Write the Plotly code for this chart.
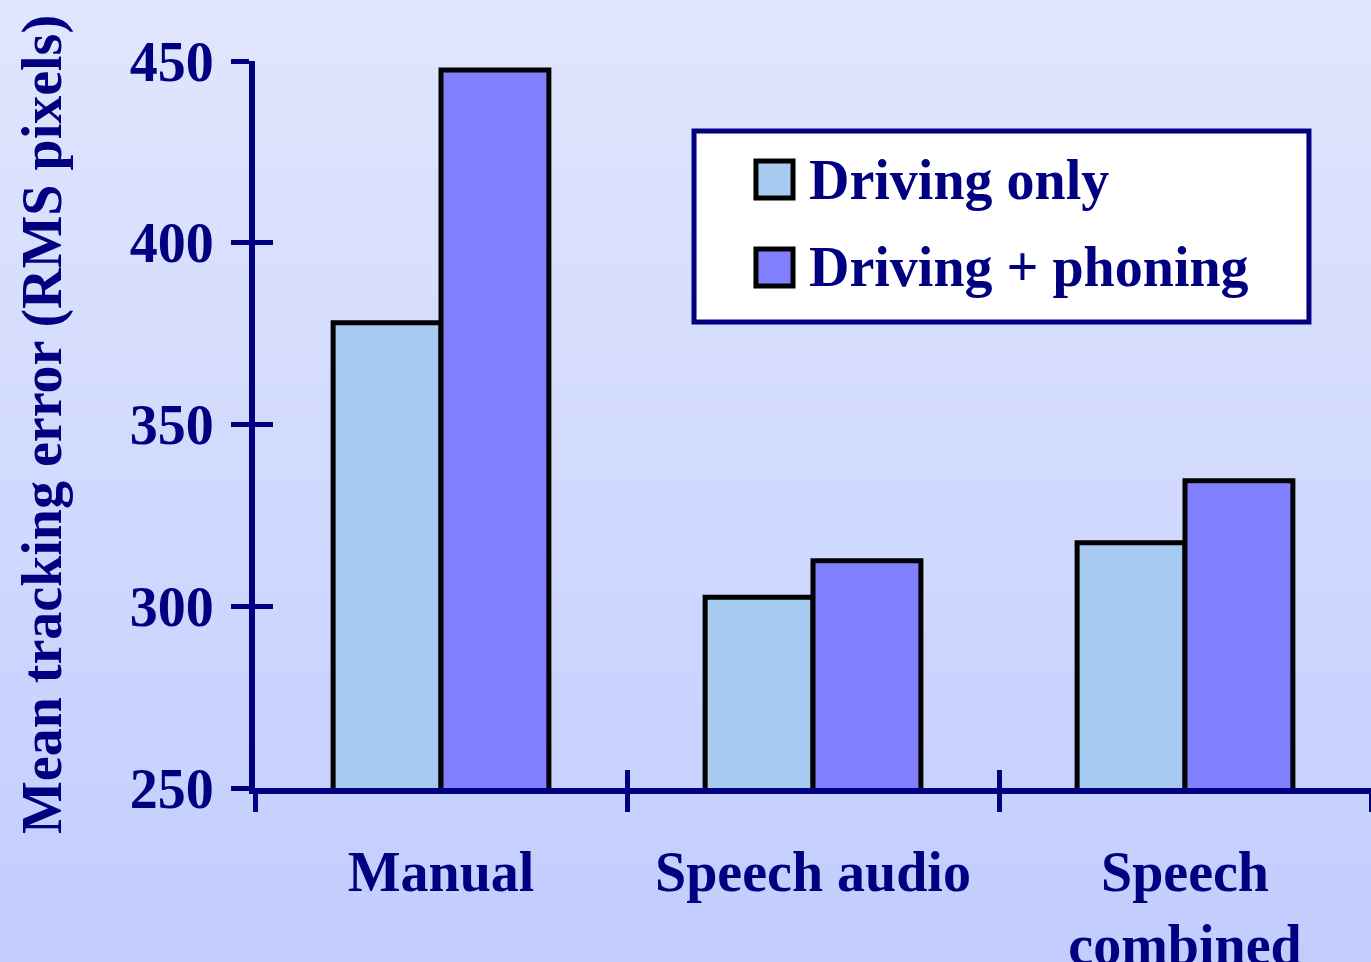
import base64
import struct
import zlib

import plotly.graph_objects as go

# ---- data ----
categories = ["Manual", "Speech audio", "Speech<br>combined"]
series_names = ["Driving only", "Driving + phoning"]
driving_only = [378, 302.5, 317.5]
driving_phoning = [447.5, 312.5, 334.5]
y_ticks = [250, 300, 350, 400, 450]

NAVY = "#000080"
BAR_COLORS = ["#A6CAF0", "#8080FF"]
FONT = "Liberation Serif"
FS = 56


def gradient_png(top, bottom, h=256):
    """Vertical 1-pixel-wide gradient encoded as a PNG data URI."""
    raw = b""
    for i in range(h):
        t = i / (h - 1)
        px = bytes(int(round(a + (b - a) * t)) for a, b in zip(top, bottom))
        raw += b"\x00" + px
    def chunk(tag, data):
        c = struct.pack(">I", len(data)) + tag + data
        return c + struct.pack(">I", zlib.crc32(tag + data) & 0xFFFFFFFF)
    png = b"\x89PNG\r\n\x1a\n"
    png += chunk(b"IHDR", struct.pack(">IIBBBBB", 1, h, 8, 2, 0, 0, 0))
    png += chunk(b"IDAT", zlib.compress(raw))
    png += chunk(b"IEND", b"")
    return "data:image/png;base64," + base64.b64encode(png).decode()


fig = go.Figure()
for name, vals, col in zip(series_names, [driving_only, driving_phoning], BAR_COLORS):
    fig.add_trace(go.Bar(
        x=categories, y=vals, name=name,
        marker=dict(color=col, line=dict(color="black", width=5)),
        showlegend=False,
    ))

# invisible helper trace so the overlay axes (inner tick halves) get drawn
fig.add_trace(go.Scatter(x=categories, y=[None] * len(categories),
                         xaxis="x2", yaxis="y2", showlegend=False,
                         hoverinfo="skip"))

bold = dict(family=FONT, size=FS, color=NAVY, weight="bold")

fig.update_layout(
    width=1371, height=962,
    margin=dict(l=255, r=0, t=61, b=174, autoexpand=False),
    paper_bgcolor="rgba(0,0,0,0)",
    plot_bgcolor="rgba(0,0,0,0)",
    barmode="group", bargap=0.42, bargroupgap=0,
    font=bold,
    xaxis=dict(
        type="category", range=[-0.5, 2.5], automargin=False,
        showline=True, linecolor=NAVY, linewidth=6,
        ticks="outside", tickson="boundaries", ticklen=18, tickwidth=5,
        tickcolor=NAVY, tickfont=bold, ticklabelstandoff=30,
        showgrid=False, zeroline=False,
    ),
    xaxis2=dict(
        type="category", range=[-0.5, 2.5], overlaying="x",
        categoryorder="array", categoryarray=categories,
        ticks="inside", tickson="boundaries", ticklen=18, tickwidth=5,
        tickcolor=NAVY, showticklabels=False, showline=False,
        showgrid=False, zeroline=False,
    ),
    yaxis=dict(
        range=[250, 450], tickvals=y_ticks, automargin=False,
        showline=True, linecolor=NAVY, linewidth=6,
        ticks="outside", ticklen=18, tickwidth=5, tickcolor=NAVY,
        tickfont=bold, ticklabelstandoff=6,
        showgrid=False, zeroline=False,
        title=dict(text="Mean tracking error (RMS pixels)", font=bold,
                   standoff=52),
    ),
    yaxis2=dict(
        range=[250, 450], tickvals=y_ticks, overlaying="y",
        ticks="inside", ticklen=18, tickwidth=5, tickcolor=NAVY,
        showticklabels=False, showline=False, showgrid=False, zeroline=False,
    ),
    images=[dict(
        source=gradient_png((225, 230, 253), (194, 205, 254)),
        xref="paper", yref="paper", x=-0.2285, y=1.0839,
        sizex=1.2285, sizey=1.3232,
        xanchor="left", yanchor="top", sizing="stretch", layer="below",
    )],
)

# ---- legend panel ----
shapes = [dict(type="rect", xref="paper", yref="paper",
               x0=0.3934, x1=0.9444, y0=0.641, y1=0.9037,
               fillcolor="white", line=dict(color=NAVY, width=5), layer="above")]
annotations = []
row_y = [0.8370, 0.7160]
for name, col, yc in zip(series_names, BAR_COLORS, row_y):
    shapes.append(dict(type="rect", xref="paper", yref="paper",
                       x0=0.4489, x1=0.4821, y0=yc - 0.0255, y1=yc + 0.0255,
                       fillcolor=col, line=dict(color="black", width=5),
                       layer="above"))
    annotations.append(dict(text=name, xref="paper", yref="paper",
                            x=0.4946, y=yc, xanchor="left", yanchor="middle",
                            showarrow=False, font=bold))
fig.update_layout(shapes=shapes, annotations=annotations)

fig.write_html("out.html")
